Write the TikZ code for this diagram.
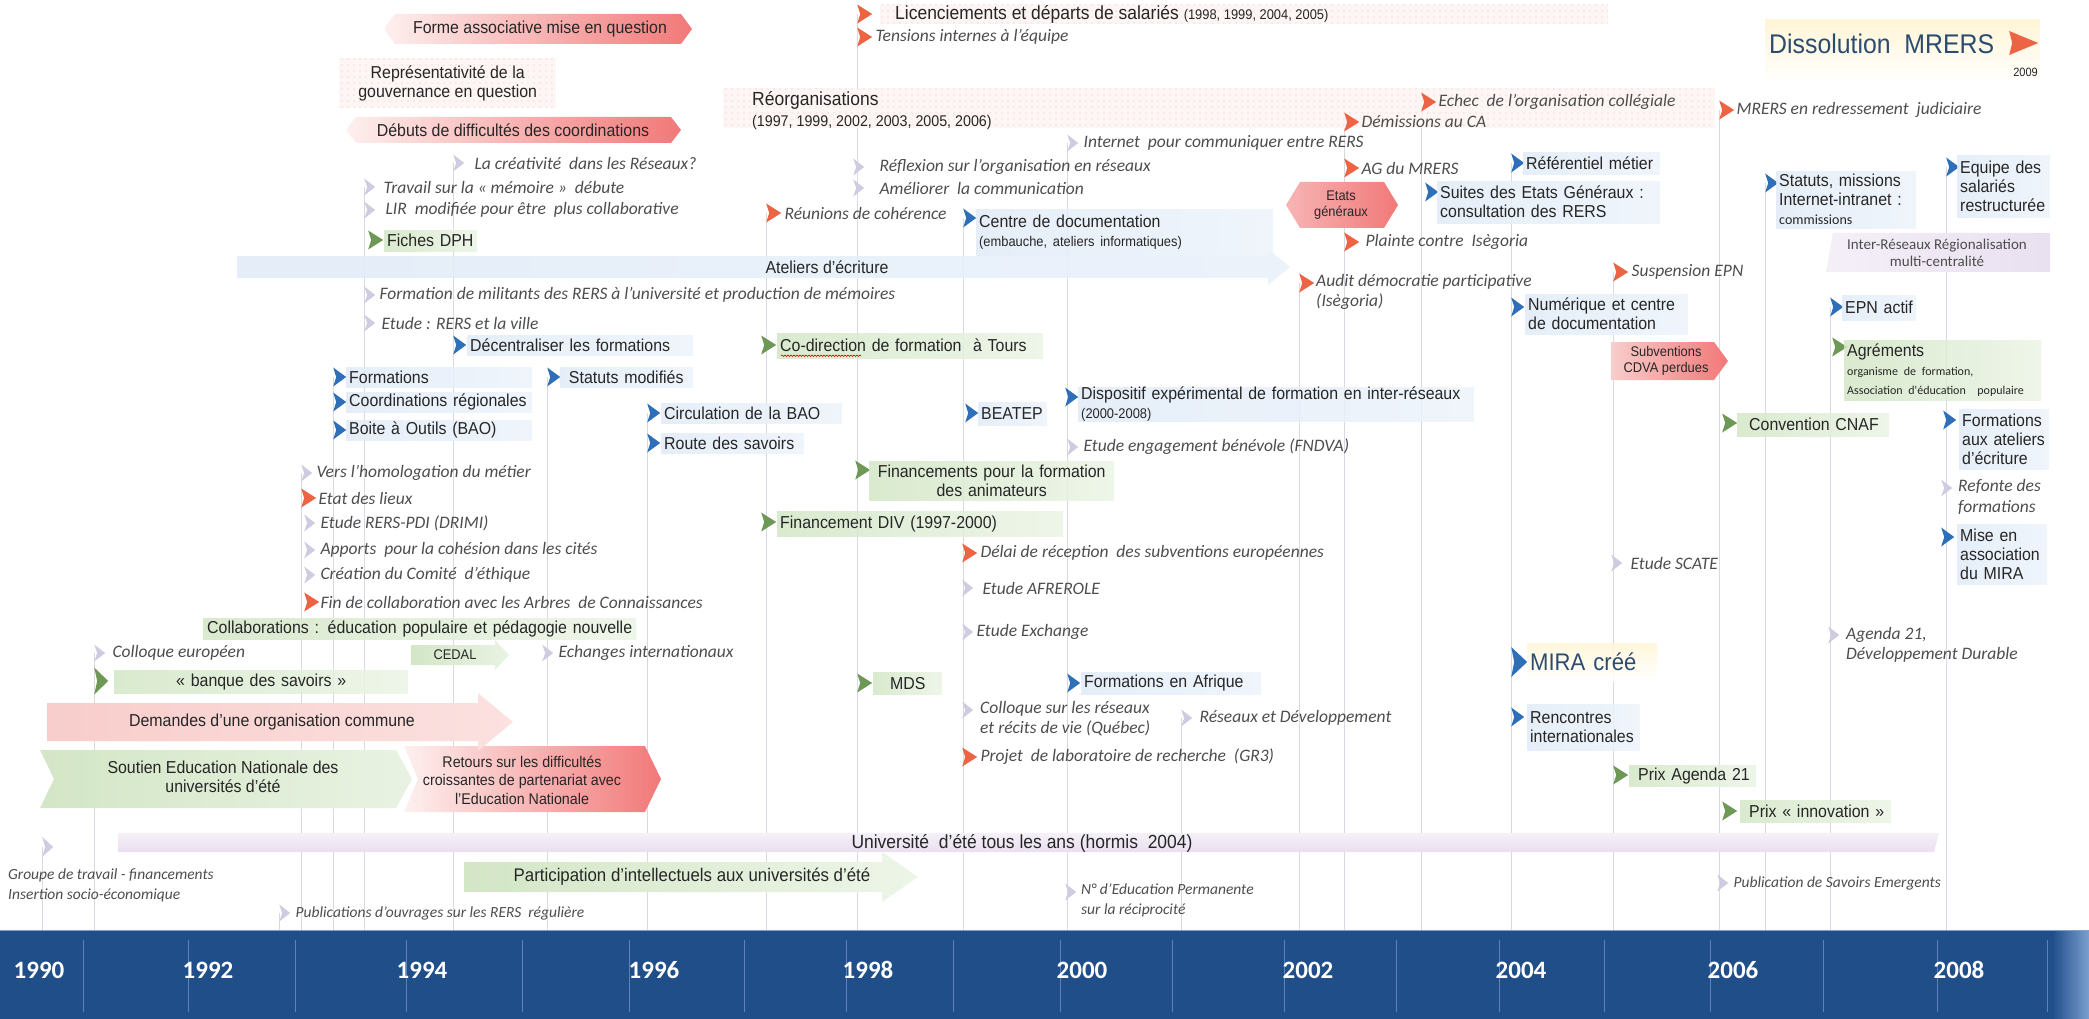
\documentclass[tikz,border=0pt]{standalone}
\usepackage{fontspec}
\setmainfont{Liberation Sans}[FakeStretch=0.92]
\newfontfamily\calfont{Carlito}
\usetikzlibrary{positioning,backgrounds,patterns.meta,decorations.pathmorphing}

\definecolor{txt}{HTML}{262626}
\definecolor{ittxt}{HTML}{4D4D4D}
\definecolor{mblue}{HTML}{2F6FB7}
\definecolor{mgreen}{HTML}{6E9856}
\definecolor{mred}{HTML}{EC6443}
\definecolor{mgray}{HTML}{CFCBE0}
\definecolor{bxblue}{HTML}{E1EBF7}
\definecolor{bxgreen}{HTML}{D3E6C6}
\definecolor{bxred}{HTML}{F27878}
\definecolor{redlite}{HTML}{FDF0EF}
\definecolor{bxpink}{HTML}{F8CDCB}
\definecolor{bxlav}{HTML}{E9E0F0}
\definecolor{lavlite}{HTML}{F5F0F8}
\definecolor{dotbg}{HTML}{FDF6F4}
\definecolor{dotfg}{HTML}{EEC3BC}
\definecolor{bandblue}{HTML}{1F4E89}
\definecolor{bandlight}{HTML}{7C9FD0}
\definecolor{tickblue}{HTML}{5E82BA}
\definecolor{vgray}{HTML}{D9D9E2}
\definecolor{dissol}{HTML}{2C4B70}
\definecolor{yellowlite}{HTML}{FFF5D6}

\newcommand\szmain{\fontsize{17.3}{19}\selectfont}
\newcommand\szbig{\fontsize{19}{21}\selectfont}
\newcommand\szmid{\fontsize{15.5}{18.5}\selectfont}
\newcommand\szsmall{\fontsize{14}{16}\selectfont}
\newcommand\sztiny{\fontsize{12}{14}\selectfont}
\newcommand\szit{\calfont\itshape\fontsize{17.5}{20.5}\selectfont}
\newcommand\szits{\calfont\itshape\fontsize{15.5}{19.5}\selectfont}
\newcommand\szhuge{\fontsize{27}{30}\selectfont}
\newcommand\szmira{\fontsize{24}{26}\selectfont}
\newcommand\szyear{\calfont\bfseries\fontsize{25}{28}\selectfont}

\tikzset{
  mk/.style={minimum width=13pt, minimum height=19pt, inner sep=0pt, anchor=west,
    path picture={\fill[#1] (path picture bounding box.north west)
      -- (path picture bounding box.east) -- (path picture bounding box.south west)
      -- ([xshift=3pt]path picture bounding box.west) -- cycle;}},
  mkb/.style={mk=mblue},
  mkg/.style={mk=mgreen, minimum width=15pt},
  mkr/.style={mk=mred, minimum width=15pt},
  mkx/.style={mk=mgray, minimum width=11pt, minimum height=17pt},
  itx/.style={font=\szit, text=ittxt, inner sep=0pt, anchor=west},
  bx/.style={anchor=north west, inner xsep=3pt, inner ysep=0pt, align=left,
    font=\szmain, text=txt, fill opacity=0.85, text opacity=1},
  bxb/.style={bx, left color=bxblue, right color=bxblue!60!white},
  bxg/.style={bx, left color=bxgreen, right color=bxgreen!45!white},
  lbl/.style={font=\szmain, text=txt, inner sep=0pt, align=center},
  vline/.style={draw=vgray, line width=0.9pt},
  tick/.style={draw=tickblue, line width=0.9pt},
  yr/.style={font=\szyear, text=white, inner sep=0pt},
  dotbox/.style={preaction={fill=dotbg}, pattern={Dots[distance=6pt, radius=0.7pt]}, pattern color=dotfg},
}

\begin{document}
\begin{tikzpicture}[x=1pt, y=-1pt]
\useasboundingbox (0,0) rectangle (2089,1019);

% year band
\node[fill=bandblue, anchor=north west, minimum width=2089pt, minimum height=89pt, inner sep=0pt] (band) at (0,930) {};
\shade[left color=bandblue, right color=bandlight] (2052,930) rectangle (2089,1019);
\draw[bandlight, line width=1.2pt] (0,930.6) -- (2089,930.6);
\foreach \x in {83,188,295,406,522,629,744,846,953,1060,1172,1284,1396,1499,1604,1710,1823,1937,2047}
  \draw[tick] (\x,940) -- (\x,1012);
\node[yr] (y1990) at (39,970) {1990};
\node[yr] (y1992) at (208,970) {1992};
\node[yr] (y1994) at (422,970) {1994};
\node[yr] (y1996) at (654,970) {1996};
\node[yr] (y1998) at (868,970) {1998};
\node[yr] (y2000) at (1082,970) {2000};
\node[yr] (y2002) at (1308,970) {2002};
\node[yr] (y2004) at (1521,970) {2004};
\node[yr] (y2006) at (1733,970) {2006};
\node[yr] (y2008) at (1959,970) {2008};

% dotted areas
\path[dotbox] (880,4) rectangle (1608,24);
\path[dotbox] (723,88) rectangle (1715,128);
\node[dotbox, anchor=north west, minimum width=217pt, minimum height=50pt, align=center, font=\szmain, text=txt] (repres) at (339,58) {Représentativité de la\\gouvernance en question};

% long bars
\shade[left color=bxblue, right color=bxblue!70!white, fill opacity=0.9] (237,256) -- (1268,256) -- (1268,249) -- (1290,267) -- (1268,285) -- (1268,278) -- (237,278) -- cycle;
\node[lbl] (ateliers) at (827,267) {Ateliers d'écriture};
\shade[top color=lavlite, bottom color=bxlav] (118,833) -- (1939,833) -- (1934,852) -- (118,852) -- cycle;
\node[lbl, font=\szbig] (univ) at (1022,843) {Université\ \ d'été tous les ans (hormis\ \ 2004)};

% red chevrons
\shade[left color=redlite, right color=bxred] (384,29) -- (395,14) -- (681,14) -- (692,29) -- (681,44) -- (395,44) -- cycle;
\node[lbl] (forme) at (540,29) {Forme associative mise en question};
\shade[left color=redlite, right color=bxred] (346,130) -- (356,117) -- (671,117) -- (681,130) -- (671,143) -- (356,143) -- cycle;
\node[lbl] (debuts) at (513,130) {Débuts de difficultés des coordinations};
\shade[left color=bxred!55!white, right color=bxred] (1286,205) -- (1300,182) -- (1384,182) -- (1398,205) -- (1384,228) -- (1300,228) -- cycle;
\node[lbl, font=\szsmall] (etats) at (1341,205) {Etats\\généraux};
\shade[left color=bxpink, right color=bxred] (1611,342) -- (1714,342) -- (1728,361) -- (1714,380) -- (1611,380) -- cycle;
\node[lbl, font=\szsmall] (subv) at (1666,361) {Subventions\\CDVA perdues};
\shade[left color=bxgreen, right color=bxgreen!50!white] (40,750) -- (396,750) -- (412,779) -- (396,808) -- (40,808) -- (54,779) -- cycle;
\node[lbl] (soutien) at (223,777) {Soutien Education Nationale des\\universités d'été};
\shade[left color=redlite, right color=bxred] (404,746) -- (645,746) -- (661,779) -- (645,812) -- (404,812) -- (418,779) -- cycle;
\node[lbl, font=\szmid] (retours) at (522,780) {Retours sur les difficultés\\croissantes de partenariat avec\\l'Education Nationale};
\shade[left color=bxpink, right color=bxpink!60!white] (47,703) -- (478,703) -- (478,693) -- (513,722) -- (478,751) -- (478,741) -- (47,741) -- cycle;
\node[lbl] (demandes) at (272,722) {Demandes d'une organisation commune};
\shade[left color=bxgreen, right color=bxgreen!40!white] (464,862) -- (882,862) -- (882,852) -- (918,877) -- (882,902) -- (882,892) -- (464,892) -- cycle;
\node[lbl, font=\fontsize{18.3}{20}\selectfont] (particip) at (692,877) {Participation d'intellectuels aux universités d'été};
\shade[left color=bxgreen, right color=bxgreen!50!white] (411,645) -- (495,645) -- (495,640) -- (509,655) -- (495,670) -- (495,665) -- (411,665) -- cycle;
\node[lbl, font=\szsmall] (cedal) at (455,655) {CEDAL};
\shade[left color=bxlav!50!white, right color=bxlav] (1833,233) -- (2050,233) -- (2050,272) -- (1826,272) -- cycle;
\node[lbl, font=\calfont\fontsize{15}{17}\selectfont, text=ittxt] (interres) at (1937,253) {Inter-Réseaux Régionalisation\\multi-centralité};

% Dissolution
\shade[top color=yellowlite, bottom color=white] (1765,20) rectangle (2040,82);
\node[font=\szhuge, text=dissol, inner sep=0pt, anchor=west] (dissol) at (1769,44) {Dissolution\ \ MRERS};
\node[mk=mred, minimum width=29pt, minimum height=24pt] (mDissol) at (2009,43) {};
\node[font=\sztiny, text=txt, inner sep=0pt, anchor=east] (an2009) at (2038,72) {2009};

% top notes
\node[mkr] (mLicenc) at (857,14) {};
\node[font=\szbig, text=txt, inner sep=0pt, anchor=west] (licenc) at (895,14) {Licenciements et départs de salariés {\szsmall (1998, 1999, 2004, 2005)}};
\node[mkr] (mTensions) at (857,37) {};
\node[itx, right=3pt of mTensions] (tensions) {Tensions internes à l’équipe};
\node[anchor=north west, inner sep=0pt, align=left, font=\szbig, text=txt] (reorg) at (752,91) {Réorganisations\\{\szmid (1997, 1999, 2002, 2003, 2005, 2006)}};
\node[mkr] (mEchec) at (1421,102) {};
\node[itx, right=2pt of mEchec] (echec) {Echec\ \ de l’organisation collégiale};
\node[mkr] (mRedress) at (1719,110) {};
\node[itx, right=2pt of mRedress] (redress) {MRERS en redressement\ \ judiciaire};
\node[mkr] (mDemiss) at (1344,122) {};
\node[itx, right=2pt of mDemiss] (demiss) {Démissions au CA};
\node[mkx] (mInternet) at (1067,143) {};
\node[itx, right=5pt of mInternet] (internet) {Internet\ \ pour communiquer entre RERS};
\node[mkx] (mCreativ) at (453,163) {};
\node[itx, right=10pt of mCreativ] (creativ) {La créativité\ \ dans les Réseaux?};
\node[mkx] (mReflex) at (853,167) {};
\node[itx, right=15pt of mReflex] (reflex) {Réflexion sur l’organisation en réseaux};
\node[mkr] (mAg) at (1344,168) {};
\node[itx, right=2pt of mAg] (ag) {AG du MRERS};
\node[mkx] (mTravail) at (364,187) {};
\node[itx, right=8pt of mTravail] (travail) {Travail sur la « mémoire »\ \ débute};
\node[mkx] (mAmelior) at (853,188) {};
\node[itx, right=15pt of mAmelior] (amelior) {Améliorer\ \ la communication};
\node[mkx] (mLir) at (364,210) {};
\node[itx, right=10pt of mLir] (lir) {LIR\ \ modifiée pour être\ \ plus collaborative};
\node[mkr] (mReunions) at (766,213) {};
\node[itx, right=3pt of mReunions] (reunions) {Réunions de cohérence};
\node[mkr] (mPlainte) at (1344,242) {};
\node[itx, right=6pt of mPlainte] (plainte) {Plainte contre\ \ Isègoria};
\node[mkr] (mSuspens) at (1613,272) {};
\node[itx, right=3pt of mSuspens] (suspens) {Suspension EPN};
\node[mkr] (mAudit) at (1299,283) {};
\node[itx, anchor=north west, align=left] (audit) at (1316,274) {Audit démocratie participative\\(Isègoria)};
\node[mkx] (mMilit) at (364,295) {};
\node[itx, right=4pt of mMilit] (milit) {Formation de militants des RERS à l’université et production de mémoires};
\node[mkx] (mVille) at (364,323) {};
\node[itx, right=6pt of mVille] (ville) {Etude : RERS et la ville};

% boxed events
\node[mkg] (mFiches) at (368,240) {};
\node[bxg, text width=87pt, minimum height=21pt] (fiches) at (384,230) {Fiches DPH};
\node[mkb] (mCentre) at (963,218) {};
\node[bxb, text width=291pt, minimum height=46pt] (centre) at (976,209) {Centre de documentation\\{\szsmall (embauche, ateliers informatiques)}};
\node[mkb] (mRefer) at (1511,163) {};
\node[bxb, text width=131pt, minimum height=22pt] (refer) at (1523,152) {Référentiel métier};
\node[mkb] (mSuites) at (1425,192) {};
\node[bxb, text width=217pt, minimum height=42pt] (suites) at (1437,181) {Suites des Etats Généraux :\\consultation des RERS};
\node[mkb] (mStatMiss) at (1765,183) {};
\node[bxb, text width=134pt, minimum height=57pt] (statmiss) at (1776,171) {Statuts, missions\\Internet-intranet :\\{\calfont\szsmall commissions}};
\node[mkb] (mEquipe) at (1946,167) {};
\node[bxb, text width=87pt, minimum height=62pt] (equipe) at (1957,155) {Equipe des\\salariés\\restructurée};
\node[mkb] (mNumer) at (1511,307) {};
\node[bxb, text width=157pt, minimum height=40pt] (numer) at (1525,294) {Numérique et centre\\de documentation};
\node[mkb] (mEpn) at (1830,307) {};
\node[bxb, text width=68pt, minimum height=25pt] (epn) at (1842,295) {EPN actif};
\node[mkb] (mDecentr) at (453,345) {};
\node[bxb, text width=220pt, minimum height=20pt] (decentr) at (467,335) {Décentraliser les formations};
\node[mkg] (mCodir) at (761,345) {};
\node[bxg, text width=260pt, minimum height=25pt] (codir) at (777,333) {Co-direction de formation\ \ à Tours};
\draw[red!85!black, line width=0.6pt, decorate, decoration={snake, amplitude=0.7pt, segment length=3pt}] ([xshift=4pt,yshift=-10pt]codir.west) -- ++(80,0);
\node[mkg] (mAgrem) at (1832,347) {};
\node[bxg, text width=191pt, minimum height=60pt] (agrem) at (1844,340) {Agréments\\{\calfont\sztiny organisme de formation,}\\{\calfont\sztiny Association d'éducation\ \ populaire}};
\node[mkb] (mFormations) at (333,377) {};
\node[bxb, text width=180pt, minimum height=20pt] (formations) at (346,367) {Formations};
\node[mkb] (mStatuts) at (547,377) {};
\node[bxb, text width=127pt, minimum height=20pt] (statuts) at (560,367) {\ Statuts modifiés};
\node[mkb] (mDispo) at (1065,397) {};
\node[bxb, text width=390pt, minimum height=31pt] (dispo) at (1078,387) {Dispositif expérimental de formation en inter-réseaux\\{\szsmall (2000-2008)}};
\node[mkb] (mCoord) at (333,402) {};
\node[bxb, text width=180pt, minimum height=20pt] (coord) at (346,392) {Coordinations régionales};
\node[mkb] (mCircul) at (647,413) {};
\node[bxb, text width=175pt, minimum height=20pt] (circul) at (661,403) {Circulation de la BAO};
\node[mkb] (mBeatep) at (965,413) {};
\node[bxb, text width=63pt, minimum height=23pt] (beatep) at (978,402) {BEATEP};
\node[mkg] (mCnaf) at (1722,423) {};
\node[bxg, text width=146pt, minimum height=23pt] (cnaf) at (1737,413) {\hspace*{9pt}Convention CNAF};
\node[mkb] (mFormAt) at (1943,420) {};
\node[bxb, text width=84pt, minimum height=60pt] (format) at (1959,409) {Formations\\aux ateliers\\d'écriture};
\node[mkb] (mBao) at (333,430) {};
\node[bxb, text width=180pt, minimum height=20pt] (bao) at (346,420) {Boite à Outils (BAO)};
\node[mkb] (mRoute) at (647,443) {};
\node[bxb, text width=137pt, minimum height=20pt] (route) at (661,433) {Route des savoirs};
\node[mkx] (mBenev) at (1067,447) {};
\node[itx, right=5pt of mBenev] (benev) {Etude engagement bénévole (FNDVA)};
\node[mkg] (mFinanc) at (855,470) {};
\node[bxg, text width=239pt, minimum height=39pt, align=center] (financ) at (869,461) {Financements pour la formation\\des animateurs};
\node[mkx] (mRefonte) at (1941,488) {};
\node[itx, anchor=north west, align=left] (refonte) at (1958,479) {Refonte des\\[1pt]formations};
\node[mkg] (mDiv) at (761,522) {};
\node[bxg, text width=280pt, minimum height=25pt] (div) at (777,511) {Financement DIV (1997-2000)};
\node[mkb] (mMise) at (1941,537) {};
\node[bxb, text width=84pt, minimum height=60pt] (mise) at (1957,524) {Mise en\\association\\du MIRA};

% left notes
\node[mkx] (mHomolog) at (301,473) {};
\node[itx, right=4pt of mHomolog] (homolog) {Vers l’homologation du métier};
\node[mkr] (mLieux) at (301,498) {};
\node[itx, right=2pt of mLieux] (lieux) {Etat des lieux};
\node[mkx] (mDrimi) at (304,523) {};
\node[itx, right=5pt of mDrimi] (drimi) {Etude RERS-PDI (DRIMI)};
\node[mkx] (mCites) at (304,550) {};
\node[itx, right=5pt of mCites] (cites) {Apports\ \ pour la cohésion dans les cités};
\node[mkx] (mEthique) at (304,575) {};
\node[itx, right=5pt of mEthique] (ethique) {Création du Comité\ \ d’éthique};
\node[mkr] (mFincollab) at (304,602) {};
\node[itx, right=1pt of mFincollab] (fincollab) {Fin de collaboration avec les Arbres\ \ de Connaissances};
\node[bxg, text width=427pt, minimum height=21pt, align=center] (collab) at (203,618) {Collaborations : éducation populaire et pédagogie nouvelle};
\node[mkx] (mColloque) at (94,653) {};
\node[itx, right=7pt of mColloque] (colloque) {Colloque européen};
\node[mkx] (mEchanges) at (542,653) {};
\node[itx, right=5pt of mEchanges] (echanges) {Echanges internationaux};
\node[mkg, minimum width=14pt, minimum height=27pt] (mBanque) at (94,681) {};
\node[bxg, text width=288pt, minimum height=23pt, align=center] (banque) at (114,670) {« banque des savoirs »};

% middle notes
\node[mkr] (mDelai) at (962,553) {};
\node[itx, right=3pt of mDelai] (delai) {Délai de réception\ \ des subventions européennes};
\node[mkx] (mScate) at (1611,563) {};
\node[itx, right=8pt of mScate] (scate) {Etude SCATE};
\node[mkx] (mAfrerole) at (962,588) {};
\node[itx, right=9pt of mAfrerole] (afrerole) {Etude AFREROLE};
\node[mkx] (mExchange) at (962,632) {};
\node[itx, right=3pt of mExchange] (exchange) {Etude Exchange};
\node[mkx] (mAgenda21) at (1828,635) {};
\node[itx, anchor=north west, align=left] (agenda21) at (1846,627) {Agenda 21,\\Développement Durable};
\node[mkb, minimum width=16pt, minimum height=30pt] (mMira) at (1511,662) {};
\node[bx, top color=yellowlite, bottom color=white, text width=124pt, minimum height=38pt, font=\szmira, text=dissol] (mira) at (1527,643) {MIRA créé};
\node[mkg] (mMds) at (857,683) {};
\node[bxg, text width=63pt, minimum height=22pt, align=center] (mds) at (873,672) {MDS};
\node[mkb] (mAfrique) at (1067,683) {};
\node[bxb, text width=174pt, minimum height=22pt] (afrique) at (1081,672) {Formations en Afrique};
\node[mkx] (mColloqQ) at (962,710) {};
\node[itx, anchor=north west, align=left] (colloqq) at (980,701) {Colloque sur les réseaux\\et récits de vie (Québec)};
\node[mkx] (mResDev) at (1181,718) {};
\node[itx, right=7pt of mResDev] (resdev) {Réseaux et Développement};
\node[mkb] (mRencontres) at (1511,717) {};
\node[bxb, text width=107pt, minimum height=46pt] (rencontres) at (1527,704) {Rencontres\\internationales};
\node[mkr] (mLabo) at (962,757) {};
\node[itx, right=3pt of mLabo] (labo) {Projet\ \ de laboratoire de recherche\ \ (GR3)};
\node[mkg] (mAgenda) at (1613,775) {};
\node[bxg, text width=121pt, minimum height=21pt] (prixag) at (1629,765) {\hspace*{6pt}Prix Agenda 21};
\node[mkg] (mInnov) at (1722,811) {};
\node[bxg, text width=145pt, minimum height=22pt] (prixinn) at (1740,800) {\hspace*{6pt}Prix « innovation »};

% bottom notes
\node[mkx, minimum height=20pt] (mGroupe) at (42,847) {};
\node[itx, font=\szits, anchor=north west, align=left] (groupe) at (8,869) {Groupe de travail - financements\\Insertion socio-économique};
\node[mkx] (mPublic) at (279,913) {};
\node[itx, font=\szits, right=5pt of mPublic] (public) {Publications d’ouvrages sur les RERS\ \ régulière};
\node[mkx] (mRevue) at (1065,892) {};
\node[itx, font=\szits, anchor=north west, align=left] (revue) at (1081,884) {N° d’Education Permanente\\sur la réciprocité};
\node[mkx] (mSavoirs) at (1717,883) {};
\node[itx, font=\szits, right=5pt of mSavoirs] (savoirs) {Publication de Savoirs Emergents};

% year lines
\begin{scope}[on background layer]
\foreach \m in {mGroupe,mColloque,mPublic,mHomolog,mFormations,mTravail,mCreativ,mStatuts,mCircul,mReunions,mLicenc,mCentre,mInternet,mResDev,mAudit,mDemiss,mEchec,mRefer,mSuspens,mRedress,mStatMiss,mEpn,mEquipe}
  \draw[vline] (\m.west) -- (\m.west |- band.north);
\end{scope}
\end{tikzpicture}
\end{document}
